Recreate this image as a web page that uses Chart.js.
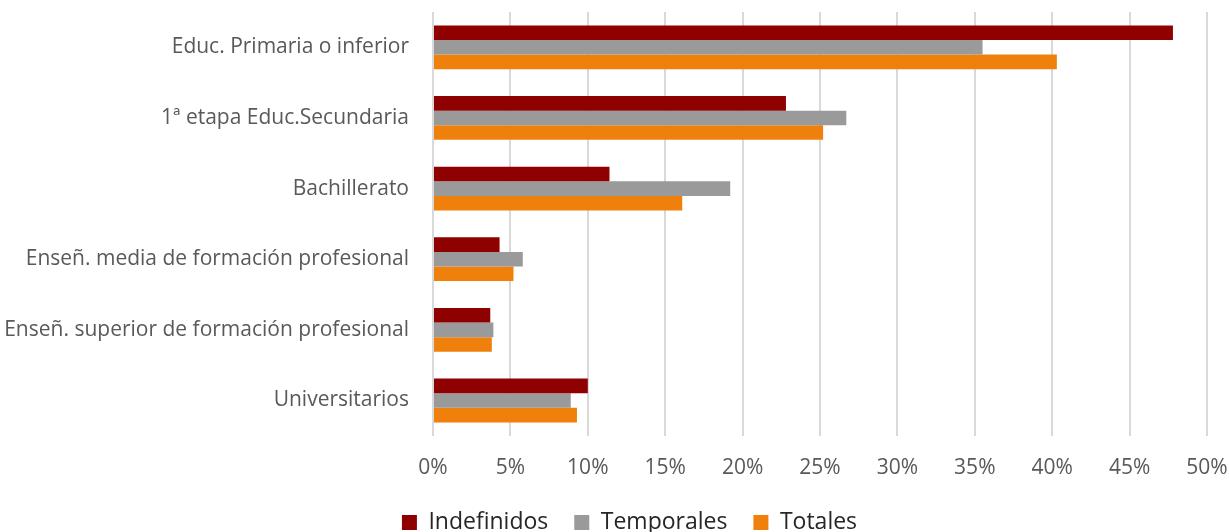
<!DOCTYPE html>
<html>
<head>
<meta charset="utf-8">
<script src="https://cdn.jsdelivr.net/npm/chart.js@4"></script>
<style>
  html, body { margin: 0; padding: 0; background: #fff; }
  #wrap { width: 1229px; height: 532px; position: relative; }
</style>
</head>
<body>
<div id="wrap"><canvas id="chart"></canvas></div>
<script>
// Nivel educativo — % por tipo de contrato
const categories = [
  'Educ. Primaria o inferior',
  '1ª etapa Educ.Secundaria',
  'Bachillerato',
  'Enseñ. media de formación profesional',
  'Enseñ. superior de formación profesional',
  'Universitarios',
];
const indefinidos = [47.8, 22.8, 11.4, 4.3, 3.7, 10.0];
const temporales  = [35.5, 26.7, 19.2, 5.8, 3.9, 8.9];
const totales     = [40.3, 25.2, 16.1, 5.2, 3.8, 9.3];
const xTicks = [0, 5, 10, 15, 20, 25, 30, 35, 40, 45, 50];

const font = "'Open Sans', 'Liberation Sans', sans-serif";

// nudge the legend a bit to the right, like the original
const legendShift = {
  id: 'legendShift',
  afterLayout(chart) {
    if (!chart.legend) return;
    chart.legend.left += 26;
    chart.legend.right += 26;
  },
};

new Chart(document.getElementById('chart').getContext('2d'), {
  type: 'bar',
  data: {
    labels: categories,
    datasets: [
      { label: 'Indefinidos', data: indefinidos, backgroundColor: '#8f0000' },
      { label: 'Temporales', data: temporales, backgroundColor: '#9a9a9a' },
      { label: 'Totales', data: totales, backgroundColor: '#f0800c' },
    ],
  },
  plugins: [legendShift],
  options: {
    indexAxis: 'y',
    responsive: true,
    maintainAspectRatio: false,
    animation: false,
    datasets: {
      bar: { categoryPercentage: 0.62, barPercentage: 1.0 },
    },
    layout: { padding: { top: 12, right: 22, left: 0, bottom: -12 } },
    plugins: {
      tooltip: { enabled: false },
      legend: {
        position: 'bottom',
        labels: {
          color: '#262626',
          boxWidth: 15,
          boxHeight: 15,
          padding: 26,
          font: { family: font, size: 23 },
        },
      },
    },
    scales: {
      x: {
        min: 0,
        max: 50,
        afterBuildTicks(axis) { axis.ticks = xTicks.map(v => ({ value: v })); },
        afterFit(axis) {
          axis.height -= 16;
          axis.paddingRight = 0;
        },
        grid: { color: '#d9d9d9', lineWidth: 2, drawTicks: false },
        border: { display: false },
        ticks: {
          color: '#595959',
          padding: 20,
          font: { family: font, size: 21 },
          callback(val) { return val + '%'; },
        },
      },
      y: {
        grid: { display: false },
        border: { display: false },
        afterFit(axis) {
          axis.width = 433;
          axis.paddingTop = 0;
          axis.paddingBottom = 0;
        },
        ticks: {
          color: '#595959',
          padding: 16,
          font: { family: font, size: 21 },
        },
      },
    },
  },
});
</script>
</body>
</html>
